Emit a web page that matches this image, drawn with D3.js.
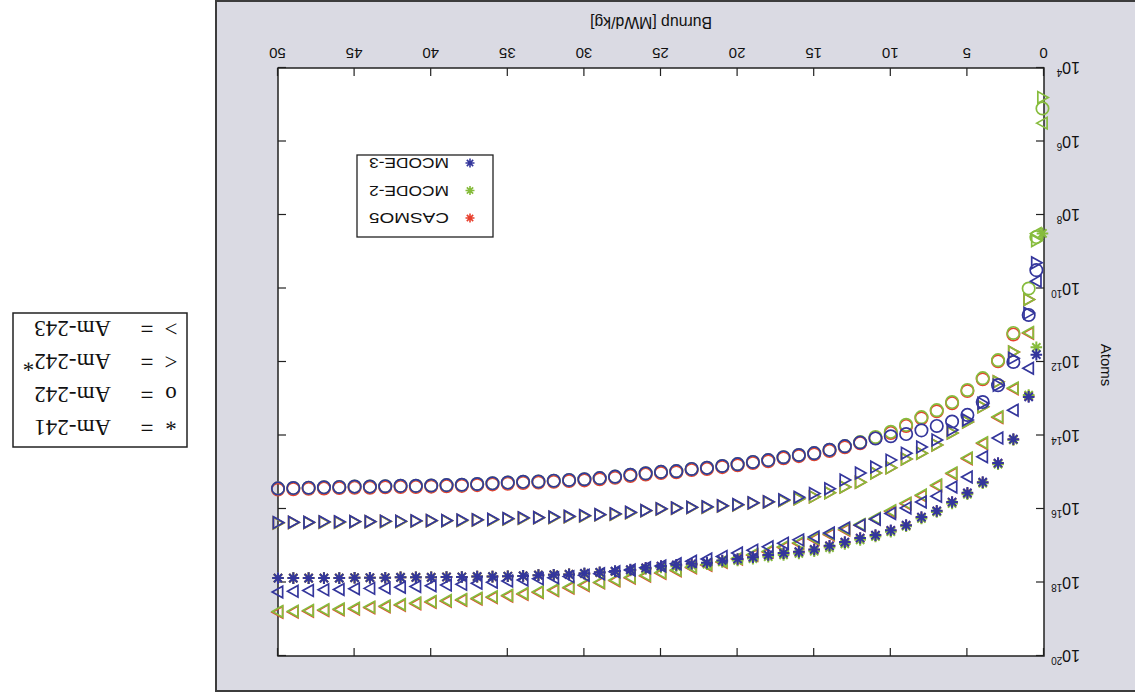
<!DOCTYPE html>
<html lang="en">
<head>
<meta charset="UTF-8">
<title>Am isotopes vs burnup</title>
<style>
  body { margin: 0; background: #ffffff; }
  svg { display: block; }
  .tick line { stroke: #222; stroke-width: 1.2px; }
  .lbl { font-family: 'Liberation Sans', Arial, sans-serif; fill: #111; }
  .key { font-family: 'Liberation Serif', 'Times New Roman', serif; font-size: 23px; fill: #111; }
</style>
</head>
<body>
<div id="chart"></div>
<script src="https://d3js.org/d3.v7.min.js"></script>
<script>
// burnup steps [MWd/kg]
const burnup = [0.1, 0.5, 1, 2, 3, 4, 5, 6, 7, 8, 9, 10,
  11, 12, 13, 14, 15, 16, 17, 18, 19, 20, 21, 22, 23, 24, 25, 26, 27, 28, 29, 30,
  31, 32, 33, 34, 35, 36, 37, 38, 39, 40, 41, 42, 43, 44, 45, 46, 47, 48, 49, 50];

// log10 of atoms
const casmo5_am241 = [null, null,
  12.93, 14.11, 14.76, 15.28, 15.57, 15.82, 16.06, 16.23, 16.45, 16.59,
  16.72, 16.80, 16.91, 17.01, 17.11, 17.17, 17.21, 17.26, 17.32, 17.37,
  17.41, 17.47, 17.50, 17.53, 17.56, 17.61, 17.66, 17.70, 17.73, 17.76,
  17.78, 17.79, 17.80, 17.82, 17.83, 17.84, 17.84, 17.85, 17.85, 17.86,
  17.86, 17.86, 17.87, 17.87, 17.87, 17.88, 17.88, 17.88, 17.88, 17.88];
const mcode2_am241 = [8.50, 11.60,
  12.90, 14.12, 14.78, 15.30, 15.60, 15.85, 16.08, 16.26, 16.47, 16.62,
  16.75, 16.84, 16.95, 17.05, 17.15, 17.21, 17.25, 17.30, 17.35, 17.40,
  17.44, 17.50, 17.53, 17.56, 17.59, 17.63, 17.67, 17.70, 17.73, 17.76,
  17.78, 17.79, 17.80, 17.82, 17.83, 17.84, 17.84, 17.85, 17.85, 17.86,
  17.86, 17.86, 17.87, 17.87, 17.87, 17.88, 17.88, 17.88, 17.88, 17.88];
const mcode3_am241 = [null, 11.80,
  12.95, 14.10, 14.75, 15.27, 15.56, 15.81, 16.05, 16.22, 16.44, 16.58,
  16.71, 16.79, 16.90, 17.00, 17.10, 17.16, 17.20, 17.25, 17.31, 17.36,
  17.40, 17.46, 17.49, 17.52, 17.55, 17.60, 17.65, 17.69, 17.72, 17.75,
  17.78, 17.79, 17.80, 17.82, 17.83, 17.84, 17.84, 17.85, 17.85, 17.86,
  17.86, 17.86, 17.87, 17.87, 17.87, 17.88, 17.88, 17.88, 17.88, 17.88];

const casmo5_am242 = [null, null,
  null, 11.25, 11.98, 12.47, 12.79, 13.12, 13.34, 13.53, 13.74, 13.93,
  14.07, 14.21, 14.32, 14.42, 14.51, 14.56, 14.62, 14.70, 14.75, 14.81,
  14.86, 14.91, 14.94, 15.00, 15.02, 15.06, 15.10, 15.15, 15.19, 15.22,
  15.24, 15.26, 15.28, 15.29, 15.31, 15.33, 15.35, 15.37, 15.38, 15.39,
  15.40, 15.40, 15.41, 15.42, 15.42, 15.43, 15.44, 15.45, 15.46, 15.47];
const mcode2_am242 = [5.10, 8.60,
  10.00, 11.21, 11.95, 12.44, 12.76, 13.09, 13.31, 13.50, 13.71, 13.90,
  14.04, 14.18, 14.29, 14.39, 14.48, 14.53, 14.59, 14.67, 14.72, 14.78,
  14.83, 14.88, 14.91, 14.97, 14.99, 15.03, 15.07, 15.12, 15.16, 15.19,
  15.21, 15.23, 15.25, 15.26, 15.28, 15.30, 15.32, 15.34, 15.35, 15.36,
  15.37, 15.37, 15.38, 15.39, 15.39, 15.40, 15.41, 15.42, 15.43, 15.44];
const mcode3_am242 = [null, 9.50,
  10.72, 12.00, 12.63, 13.09, 13.44, 13.62, 13.74, 13.86, 13.96, 14.02,
  14.08, 14.19, 14.29, 14.39, 14.48, 14.53, 14.59, 14.67, 14.72, 14.78,
  14.83, 14.88, 14.91, 14.97, 14.99, 15.03, 15.07, 15.12, 15.16, 15.19,
  15.21, 15.23, 15.25, 15.26, 15.28, 15.30, 15.32, 15.34, 15.35, 15.36,
  15.37, 15.37, 15.38, 15.39, 15.39, 15.40, 15.41, 15.42, 15.43, 15.44];

const casmo5_am242m = [null, null,
  10.30, 11.73, 12.54, 13.22, 13.63, 13.93, 14.26, 14.48, 14.64, 14.88,
  15.02, 15.27, 15.40, 15.56, 15.67, 15.72, 15.77, 15.81, 15.84, 15.89,
  15.92, 15.95, 15.96, 15.98, 16.00, 16.05, 16.10, 16.14, 16.16, 16.19,
  16.21, 16.23, 16.24, 16.25, 16.27, 16.29, 16.30, 16.31, 16.32, 16.32,
  16.33, 16.34, 16.34, 16.35, 16.35, 16.36, 16.36, 16.37, 16.37, 16.38];
const mcode2_am242m = [4.80, 8.70,
  10.30, 11.73, 12.54, 13.22, 13.63, 13.93, 14.26, 14.48, 14.64, 14.88,
  15.02, 15.27, 15.40, 15.56, 15.67, 15.72, 15.77, 15.81, 15.84, 15.89,
  15.92, 15.95, 15.96, 15.98, 16.00, 16.05, 16.10, 16.14, 16.16, 16.19,
  16.21, 16.23, 16.24, 16.25, 16.27, 16.29, 16.30, 16.31, 16.32, 16.32,
  16.33, 16.34, 16.34, 16.35, 16.35, 16.36, 16.36, 16.37, 16.37, 16.38];
const mcode3_am242m = [null, 9.30,
  10.67, 11.90, 12.63, 13.12, 13.58, 13.85, 14.12, 14.31, 14.48, 14.67,
  14.86, 15.02, 15.21, 15.45, 15.58, 15.68, 15.75, 15.80, 15.83, 15.88,
  15.91, 15.94, 15.95, 15.97, 15.99, 16.04, 16.09, 16.13, 16.15, 16.18,
  16.20, 16.22, 16.23, 16.24, 16.26, 16.28, 16.29, 16.30, 16.31, 16.31,
  16.32, 16.33, 16.33, 16.34, 16.34, 16.35, 16.35, 16.36, 16.36, 16.37];

const casmo5_am243 = [null, null,
  11.22, 12.73, 13.51, 14.22, 14.63, 15.04, 15.37, 15.64, 15.86, 16.07,
  16.27, 16.44, 16.57, 16.70, 16.82, 16.94, 17.05, 17.17, 17.26, 17.36,
  17.45, 17.53, 17.60, 17.68, 17.75, 17.82, 17.88, 17.95, 18.01, 18.08,
  18.15, 18.22, 18.27, 18.32, 18.37, 18.41, 18.45, 18.48, 18.51, 18.54,
  18.58, 18.62, 18.66, 18.69, 18.72, 18.74, 18.76, 18.78, 18.80, 18.81];
const mcode2_am243 = [5.50, 8.50,
  11.20, 12.71, 13.49, 14.20, 14.61, 15.02, 15.35, 15.62, 15.84, 16.05,
  16.25, 16.42, 16.55, 16.68, 16.80, 16.92, 17.03, 17.15, 17.24, 17.34,
  17.43, 17.51, 17.58, 17.66, 17.73, 17.80, 17.86, 17.93, 17.99, 18.06,
  18.13, 18.20, 18.25, 18.30, 18.35, 18.39, 18.43, 18.46, 18.49, 18.52,
  18.56, 18.60, 18.64, 18.67, 18.70, 18.72, 18.74, 18.76, 18.78, 18.79];
const mcode3_am243 = [null, 9.80,
  12.17, 13.31, 14.07, 14.58, 15.13, 15.40, 15.65, 15.81, 15.97, 16.12,
  16.28, 16.44, 16.52, 16.65, 16.76, 16.84, 16.93, 17.03, 17.12, 17.20,
  17.29, 17.36, 17.42, 17.49, 17.55, 17.60, 17.66, 17.71, 17.76, 17.80,
  17.84, 17.87, 17.90, 17.93, 17.96, 17.99, 18.02, 18.05, 18.07, 18.09,
  18.11, 18.13, 18.15, 18.16, 18.17, 18.19, 18.20, 18.22, 18.24, 18.26];

const codes = ["CASMO5", "MCODE-2", "MCODE-3"];
const codeColors = ["#e8402e", "#86bc3c", "#34369c"];
const isotopes = ["Am-241", "Am-242", "Am-242*", "Am-243"];
const isoMarks = ["*", "o", "<", ">"];
const xTicks = [0, 5, 10, 15, 20, 25, 30, 35, 40, 45, 50];
const yTicks = [4, 6, 8, 10, 12, 14, 16, 18, 20];

const table = [
  [casmo5_am241, casmo5_am242, casmo5_am242m, casmo5_am243],
  [mcode2_am241, mcode2_am242, mcode2_am242m, mcode2_am243],
  [mcode3_am241, mcode3_am242, mcode3_am242m, mcode3_am243]
];

const W = 1135, H = 696;
const plot = { left: 91, right: 857, top: 40, bottom: 628 };

const x = d3.scaleLinear().domain([0, 50]).range([plot.left, plot.right]);
const y = d3.scaleLog().domain([1e4, 1e20]).range([plot.bottom, plot.top]);

const svg = d3.select("#chart").append("svg")
  .attr("width", W).attr("height", H);
svg.append("rect").attr("width", W).attr("height", H).attr("fill", "#ffffff");

// the whole figure is shown upside down
const g = svg.append("g").attr("transform", `rotate(180 ${W / 2} ${H / 2})`);

// grey figure panel
g.append("rect")
  .attr("x", -4).attr("y", 5).attr("width", 923).attr("height", 690)
  .attr("fill", "#dadae3").attr("stroke", "#3c3c3c").attr("stroke-width", 2);

g.append("rect")
  .attr("x", plot.left).attr("y", plot.top)
  .attr("width", plot.right - plot.left).attr("height", plot.bottom - plot.top)
  .attr("fill", "#ffffff");

// axes, ticks pointing inwards
const xb = g.append("g").attr("transform", `translate(0,${plot.bottom})`)
  .call(d3.axisBottom(x).tickValues(xTicks).tickSize(-8).tickPadding(9));
xb.selectAll(".tick text")
  .style("font-family", "'Liberation Sans', Arial, sans-serif")
  .style("font-size", "15px").style("fill", "#111");
const xt = g.append("g").attr("transform", `translate(0,${plot.top})`)
  .call(d3.axisTop(x).tickValues(xTicks).tickSize(-8).tickFormat(""));
const yl = g.append("g").attr("transform", `translate(${plot.left},0)`)
  .call(d3.axisLeft(y).tickValues(yTicks.map(e => Math.pow(10, e))).tickSize(-8).tickFormat(""));
const yr = g.append("g").attr("transform", `translate(${plot.right},0)`)
  .call(d3.axisRight(y).tickValues(yTicks.map(e => Math.pow(10, e))).tickSize(-8).tickFormat(""));
[xb, xt, yl, yr].forEach(a => a.select(".domain").remove());

// powers of ten on the y axis
const yLab = g.append("g").selectAll("text").data(yTicks).enter().append("text")
  .attr("class", "lbl")
  .attr("x", 55)
  .attr("y", d => y(Math.pow(10, d)) + 6)
  .style("font-size", "16px");
yLab.append("tspan").text("10");
yLab.append("tspan").attr("dy", -7).style("font-size", "10px").text(d => d);

g.append("rect")
  .attr("x", plot.left).attr("y", plot.top)
  .attr("width", plot.right - plot.left).attr("height", plot.bottom - plot.top)
  .attr("fill", "none").attr("stroke", "#222").attr("stroke-width", 1.5);

g.append("text").attr("class", "lbl")
  .attr("x", (plot.left + plot.right) / 2 + 10).attr("y", 679)
  .attr("text-anchor", "middle").style("font-size", "16px")
  .attr("textLength", 122).attr("lengthAdjust", "spacingAndGlyphs")
  .text("Burnup [MWd/kg]");

g.append("text").attr("class", "lbl")
  .attr("transform", "translate(34,331) rotate(-90)")
  .attr("text-anchor", "middle").style("font-size", "15px")
  .text("Atoms");

// marker shapes
function markPath(m, r) {
  if (m === "*") {
    const k = r * 0.707;
    return `M${-r},0H${r}M0,${-r}V${r}M${-k},${-k}L${k},${k}M${-k},${k}L${k},${-k}`;
  }
  if (m === "<") return `M${-r},0L${r * 0.8},${-r}L${r * 0.8},${r}Z`;
  if (m === ">") return `M${r},0L${-r * 0.8},${-r}L${-r * 0.8},${r}Z`;
  return d3.arc()({ innerRadius: 0, outerRadius: r, startAngle: 0, endAngle: 2 * Math.PI });
}

const marks = g.append("g");
table.forEach((row, ci) => {
  row.forEach((vals, ii) => {
    const pts = burnup.map((b, i) => ({ b, v: vals[i] })).filter(p => p.v !== null);
    marks.append("g").selectAll("path").data(pts).enter().append("path")
      .attr("transform", p => `translate(${x(p.b)},${y(Math.pow(10, p.v))})`)
      .attr("d", markPath(isoMarks[ii], isoMarks[ii] === "o" ? 6.2 : 5.8))
      .attr("fill", "none")
      .attr("stroke", codeColors[ci])
      .attr("stroke-width", isoMarks[ii] === "*" ? 2 : 1.7);
  });
});

// code legend
const leg = g.append("g");
leg.append("rect").attr("x", 642).attr("y", 459).attr("width", 136).attr("height", 82)
  .attr("fill", "#ffffff").attr("stroke", "#222").attr("stroke-width", 1.3);
codes.forEach((c, i) => {
  const cy = 478 + i * 27.5;
  leg.append("path").attr("transform", `translate(665,${cy})`)
    .attr("d", markPath("*", 4.5)).attr("fill", "none")
    .attr("stroke", codeColors[i]).attr("stroke-width", 1.6);
  leg.append("text").attr("class", "lbl").attr("x", 686).attr("y", cy + 5)
    .style("font-size", "14px")
    .attr("textLength", 80).attr("lengthAdjust", "spacingAndGlyphs")
    .text(c);
});

// isotope key box
const key = g.append("g");
key.append("rect").attr("x", 948).attr("y", 249).attr("width", 174).attr("height", 134)
  .attr("fill", "#ffffff").attr("stroke", "#222").attr("stroke-width", 1.5);
isotopes.forEach((iso, i) => {
  const by = 276 + i * 33;
  key.append("text").attr("class", "key").attr("x", 964).attr("y", by + (isoMarks[i] === "*" ? 5 : 0))
    .attr("text-anchor", "middle").text(isoMarks[i]);
  key.append("text").attr("class", "key").attr("x", 988).attr("y", by)
    .attr("text-anchor", "middle").text("=");
  const t = key.append("text").attr("class", "key").attr("x", 1024).attr("y", by);
  if (iso.endsWith("*")) {
    t.append("tspan").text(iso.slice(0, -1));
    t.append("tspan").attr("dy", -2).text("*");
  } else {
    t.text(iso);
  }
});
</script>
</body>
</html>
